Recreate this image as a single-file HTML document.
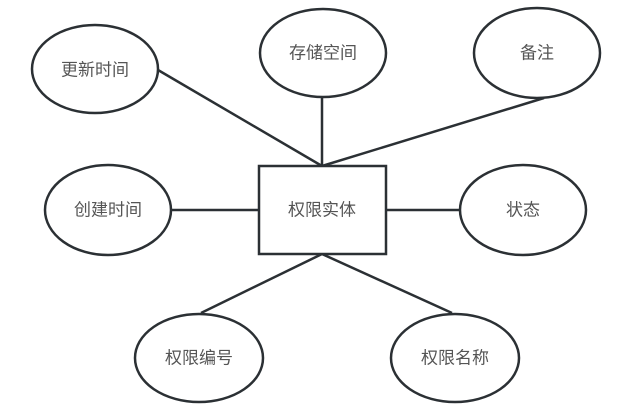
<!DOCTYPE html>
<html><head><meta charset="utf-8"><style>
html,body{margin:0;padding:0;background:#fff;}
svg{display:block;}
text{font-family:"Liberation Sans","Noto Sans CJK SC",sans-serif;font-size:17px;fill:#555;text-anchor:middle;dominant-baseline:central;}
</style></head><body>
<svg width="631" height="412" viewBox="0 0 631 412">
<g stroke="#2b3034" stroke-width="2.5" fill="none">
<line x1="158" y1="70" x2="322" y2="166"/>
<line x1="322" y1="97" x2="322" y2="166"/>
<line x1="544" y1="98" x2="322" y2="166"/>
<line x1="172" y1="210" x2="259" y2="210"/>
<line x1="386" y1="210" x2="460" y2="210"/>
<line x1="322" y1="254" x2="201" y2="313"/>
<line x1="322" y1="254" x2="452" y2="313"/>
<ellipse cx="95" cy="69" rx="63" ry="44" fill="#fff"/>
<ellipse cx="323" cy="53" rx="63" ry="44" fill="#fff"/>
<ellipse cx="537" cy="53" rx="63" ry="45" fill="#fff"/>
<ellipse cx="108" cy="210" rx="63" ry="45" fill="#fff"/>
<ellipse cx="523" cy="210" rx="63" ry="45" fill="#fff"/>
<ellipse cx="199" cy="358" rx="64" ry="44" fill="#fff"/>
<ellipse cx="455" cy="358" rx="64" ry="44" fill="#fff"/>
<rect x="259" y="166" width="127" height="88" fill="#fff"/>
</g>
<text x="95" y="70">更新时间</text>
<text x="323" y="53">存储空间</text>
<text x="537" y="53">备注</text>
<text x="108" y="210">创建时间</text>
<text x="322" y="210">权限实体</text>
<text x="523" y="210">状态</text>
<text x="199" y="358">权限编号</text>
<text x="455" y="358">权限名称</text>
</svg>
</body></html>
